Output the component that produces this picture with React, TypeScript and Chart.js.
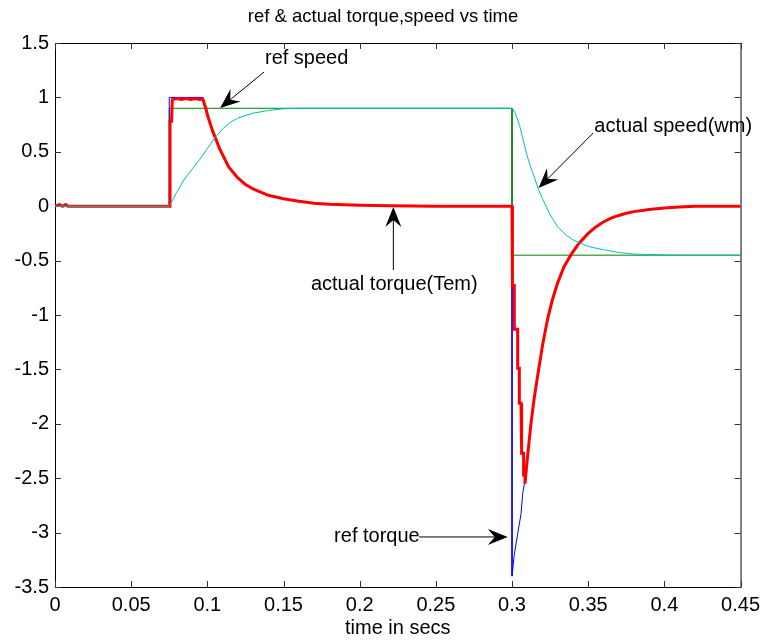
import React, { useEffect, useRef } from "react";
import { Chart, registerables } from "chart.js";

Chart.register(...registerables);

const FONT = '"Liberation Sans", Arial, Helvetica, sans-serif';

const xTicks = [0, 0.05, 0.1, 0.15, 0.2, 0.25, 0.3, 0.35, 0.4, 0.45];
const yTicks = [-3.5, -3, -2.5, -2, -1.5, -1, -0.5, 0, 0.5, 1, 1.5];

// ref speed (green)
const refSpeedTime = [0, 0.075, 0.075, 0.3, 0.3, 0.45];
const refSpeedValue = [0, 0, 0.9, 0.9, -0.45, -0.45];

// actual speed wm (cyan)
const actualSpeedTime = [
  0, 0.075, 0.08, 0.085, 0.09, 0.095, 0.1, 0.105, 0.11, 0.115, 0.12, 0.13, 0.14, 0.15, 0.16,
  0.3, 0.302, 0.305, 0.308, 0.31, 0.3125, 0.315, 0.3175, 0.32, 0.325, 0.33, 0.335, 0.34, 0.35,
  0.36, 0.37, 0.38, 0.39, 0.41, 0.45,
];
const actualSpeedValue = [
  0, 0, 0.13, 0.25, 0.34, 0.43, 0.53, 0.63, 0.71, 0.77, 0.81, 0.855, 0.88, 0.895, 0.9,
  0.9, 0.86, 0.74, 0.57, 0.46, 0.35, 0.25, 0.15, 0.07, -0.08, -0.19, -0.26, -0.31, -0.37,
  -0.4, -0.425, -0.44, -0.445, -0.45, -0.45,
];

// ref torque (blue)
const refTorqueTime = [
  0, 0.075, 0.075, 0.097, 0.099, 0.1, 0.1035, 0.108, 0.114, 0.12, 0.125, 0.13, 0.14, 0.15, 0.16,
  0.17, 0.18, 0.2, 0.22, 0.25, 0.3, 0.3, 0.3015, 0.3037, 0.3059, 0.307, 0.3085, 0.3102, 0.3124,
  0.3145, 0.3168, 0.32, 0.3233, 0.3265, 0.3298, 0.334, 0.3385, 0.344, 0.35, 0.355, 0.36, 0.365,
  0.37, 0.375, 0.38, 0.39, 0.4, 0.41, 0.42, 0.45,
];
const refTorqueValue = [
  0, 0, 1.0, 1.0, 0.9, 0.84, 0.69, 0.53, 0.36, 0.26, 0.2, 0.16, 0.1, 0.068, 0.045,
  0.028, 0.018, 0.008, 0.003, 0, 0, -3.4, -3.2, -3.01, -2.83, -2.64, -2.52, -2.3, -2.0,
  -1.77, -1.56, -1.28, -1.04, -0.86, -0.71, -0.56, -0.45, -0.34, -0.25, -0.19, -0.145, -0.11,
  -0.085, -0.065, -0.05, -0.03, -0.017, -0.008, 0, 0,
];

// actual torque Tem (red)
const actualTorqueTime = [
  0, 0.003, 0.005, 0.007, 0.0085, 0.075, 0.0755, 0.0755, 0.0765, 0.077, 0.08, 0.083, 0.086,
  0.089, 0.092, 0.095, 0.097, 0.099, 0.1, 0.1035, 0.108, 0.114, 0.12, 0.125, 0.13, 0.14, 0.15,
  0.16, 0.17, 0.18, 0.2, 0.22, 0.25, 0.3, 0.3, 0.3004, 0.3004, 0.3015, 0.3015, 0.3037, 0.3037,
  0.3048, 0.3048, 0.3059, 0.3059, 0.3065, 0.3065, 0.3076, 0.3076, 0.3085, 0.3085, 0.3102, 0.3124,
  0.3145, 0.3168, 0.32, 0.3233, 0.3265, 0.3298, 0.334, 0.3385, 0.344, 0.35, 0.355, 0.36, 0.365,
  0.37, 0.375, 0.38, 0.39, 0.4, 0.41, 0.42, 0.45,
];
const actualTorqueValue = [
  0, 0.015, 0, 0.015, 0, 0, 0, 0.78, 0.78, 0.98, 0.99, 0.98, 0.99,
  0.98, 0.99, 0.98, 0.985, 0.9, 0.84, 0.69, 0.53, 0.36, 0.26, 0.2, 0.16, 0.1, 0.068,
  0.045, 0.028, 0.018, 0.008, 0.003, 0, 0, -0.3, -0.3, -0.73, -0.73, -1.13, -1.13, -1.49,
  -1.49, -1.81, -1.81, -2.09, -2.09, -2.27, -2.27, -2.47, -2.47, -2.55, -2.3, -2.0,
  -1.77, -1.56, -1.28, -1.04, -0.86, -0.71, -0.56, -0.45, -0.34, -0.25, -0.19, -0.145, -0.11,
  -0.085, -0.065, -0.05, -0.03, -0.017, -0.008, 0, 0,
];

const toPoints = (t: number[], v: number[]) => t.map((x, i) => ({ x, y: v[i] }));
const fmt = (v: number) => String(Number(v.toFixed(2)));

function drawArrow(ctx: CanvasRenderingContext2D, x1: number, y1: number, x2: number, y2: number) {
  const ang = Math.atan2(y2 - y1, x2 - x1);
  const ux = Math.cos(ang), uy = Math.sin(ang);
  const px = -uy, py = ux;
  const L = 20, W = 8, N = 13;
  ctx.beginPath();
  ctx.moveTo(x1, y1);
  ctx.lineTo(x2 - N * ux, y2 - N * uy);
  ctx.stroke();
  ctx.beginPath();
  ctx.moveTo(x2, y2);
  ctx.lineTo(x2 - L * ux + W * px, y2 - L * uy + W * py);
  ctx.lineTo(x2 - N * ux, y2 - N * uy);
  ctx.lineTo(x2 - L * ux - W * px, y2 - L * uy - W * py);
  ctx.closePath();
  ctx.fill();
}

const boxPlugin = {
  id: "boxTicks",
  afterLayout(chart: any) {
    // centre the title over the whole canvas
    const tb = chart.titleBlock;
    if (tb) {
      tb.left = 0;
      tb.right = chart.width;
      tb.width = chart.width;
    }
  },
  beforeDatasetsDraw(chart: any) {
    const { ctx, chartArea: a, scales } = chart;
    ctx.save();
    ctx.strokeStyle = "#000";
    ctx.lineWidth = 1;
    ctx.strokeRect(a.left + 0.5, a.top + 0.5, a.right - a.left, a.bottom - a.top);
    ctx.strokeStyle = "#333";
    const len = 6;
    ctx.beginPath();
    xTicks.forEach((v) => {
      const x = Math.round(scales.x.getPixelForValue(v)) + 0.5;
      ctx.moveTo(x, a.bottom);
      ctx.lineTo(x, a.bottom - len);
      ctx.moveTo(x, a.top);
      ctx.lineTo(x, a.top + len);
    });
    yTicks.forEach((v) => {
      const y = Math.round(scales.y.getPixelForValue(v)) + 0.5;
      ctx.moveTo(a.left, y);
      ctx.lineTo(a.left + len, y);
      ctx.moveTo(a.right, y);
      ctx.lineTo(a.right - len, y);
    });
    ctx.stroke();
    ctx.restore();
  },
  afterDatasetsDraw(chart: any) {
    const { ctx, scales } = chart;
    const X = (t: number) => scales.x.getPixelForValue(t);
    const Y = (v: number) => scales.y.getPixelForValue(v);
    ctx.save();
    ctx.fillStyle = "#000";
    ctx.strokeStyle = "#000";
    ctx.lineWidth = 1;
    ctx.font = `20px ${FONT}`;
    ctx.textBaseline = "middle";
    // ref speed
    ctx.textAlign = "center";
    ctx.fillText("ref speed", X(0.1652), Y(1.362));
    drawArrow(ctx, X(0.1372), Y(1.233), X(0.1084), Y(0.903));
    // actual speed
    ctx.textAlign = "left";
    ctx.fillText("actual speed(wm)", X(0.354), Y(0.734));
    drawArrow(ctx, X(0.3533), Y(0.673), X(0.3174), Y(0.167));
    // actual torque
    ctx.textAlign = "center";
    ctx.fillText("actual torque(Tem)", X(0.2227), Y(-0.715));
    drawArrow(ctx, X(0.2221), Y(-0.586), X(0.2221), Y(-0.007));
    // ref torque
    ctx.fillText("ref torque", X(0.2113), Y(-3.04));
    drawArrow(ctx, X(0.239), Y(-3.04), X(0.2972), Y(-3.04));
    ctx.restore();
  },
};

export default function App() {
  const canvasRef = useRef<HTMLCanvasElement>(null);
  useEffect(() => {
    const canvas = canvasRef.current;
    if (!canvas) return;
    const tickFont = { family: FONT, size: 20, weight: "normal" as const, lineHeight: 1.2 };
    const chart = new Chart(canvas, {
      type: "line",
      data: {
        datasets: [
          {
            label: "actual speed(wm)",
            data: toPoints(actualSpeedTime, actualSpeedValue),
            borderColor: "#00BFBF",
            borderWidth: 1,
            order: 1,
          },
          {
            label: "actual torque(Tem)",
            data: toPoints(actualTorqueTime, actualTorqueValue),
            borderColor: "#FF0000",
            borderWidth: 3,
            order: 2,
          },
          {
            label: "ref torque",
            data: toPoints(refTorqueTime, refTorqueValue),
            borderColor: "#0000FF",
            borderWidth: 1,
            order: 3,
          },
          {
            label: "ref speed",
            data: toPoints(refSpeedTime, refSpeedValue),
            borderColor: "#008000",
            borderWidth: 1,
            order: 4,
          },
        ],
      },
      options: {
        responsive: false,
        animation: false,
        devicePixelRatio: 1,
        elements: { point: { radius: 0 }, line: { tension: 0, fill: false } },
        layout: { padding: { left: 0, right: 22, top: 0, bottom: 0 } },
        plugins: {
          legend: { display: false },
          tooltip: { enabled: false },
          title: {
            display: true,
            text: "ref & actual torque,speed vs time",
            color: "#000",
            font: { family: FONT, size: 18.5, weight: "normal", lineHeight: 1.2 },
            padding: { top: 6, bottom: 14.8 },
          },
        },
        scales: {
          x: {
            type: "linear",
            min: 0,
            max: 0.45,
            afterBuildTicks: (s: any) => {
              s.ticks = xTicks.map((value) => ({ value }));
            },
            afterFit: (s: any) => {
              s.height = 54;
            },
            ticks: {
              color: "#000",
              font: tickFont,
              padding: 6,
              maxRotation: 0,
              autoSkip: false,
              callback: (v: any) => fmt(Number(v)),
            },
            grid: { display: false, drawTicks: false },
            border: { display: true, color: "#000", width: 1 },
            title: {
              display: true,
              text: "time in secs",
              color: "#000",
              font: tickFont,
              padding: { top: 0, bottom: 1 },
            },
          },
          y: {
            type: "linear",
            min: -3.5,
            max: 1.5,
            afterBuildTicks: (s: any) => {
              s.ticks = yTicks.map((value) => ({ value }));
            },
            afterFit: (s: any) => {
              s.width = 55;
            },
            ticks: {
              color: "#000",
              font: tickFont,
              padding: 6,
              autoSkip: false,
              callback: (v: any) => fmt(Number(v)),
            },
            grid: { display: false, drawTicks: false },
            border: { display: true, color: "#000", width: 1 },
          },
        },
      },
      plugins: [boxPlugin],
    } as any);
    return () => chart.destroy();
  }, []);
  return (
    <div style={{ position: "fixed", left: 0, top: 0, width: 766, height: 641, background: "#fff" }}>
      <canvas ref={canvasRef} width={766} height={641} style={{ width: 766, height: 641, display: "block" }} />
    </div>
  );
}
